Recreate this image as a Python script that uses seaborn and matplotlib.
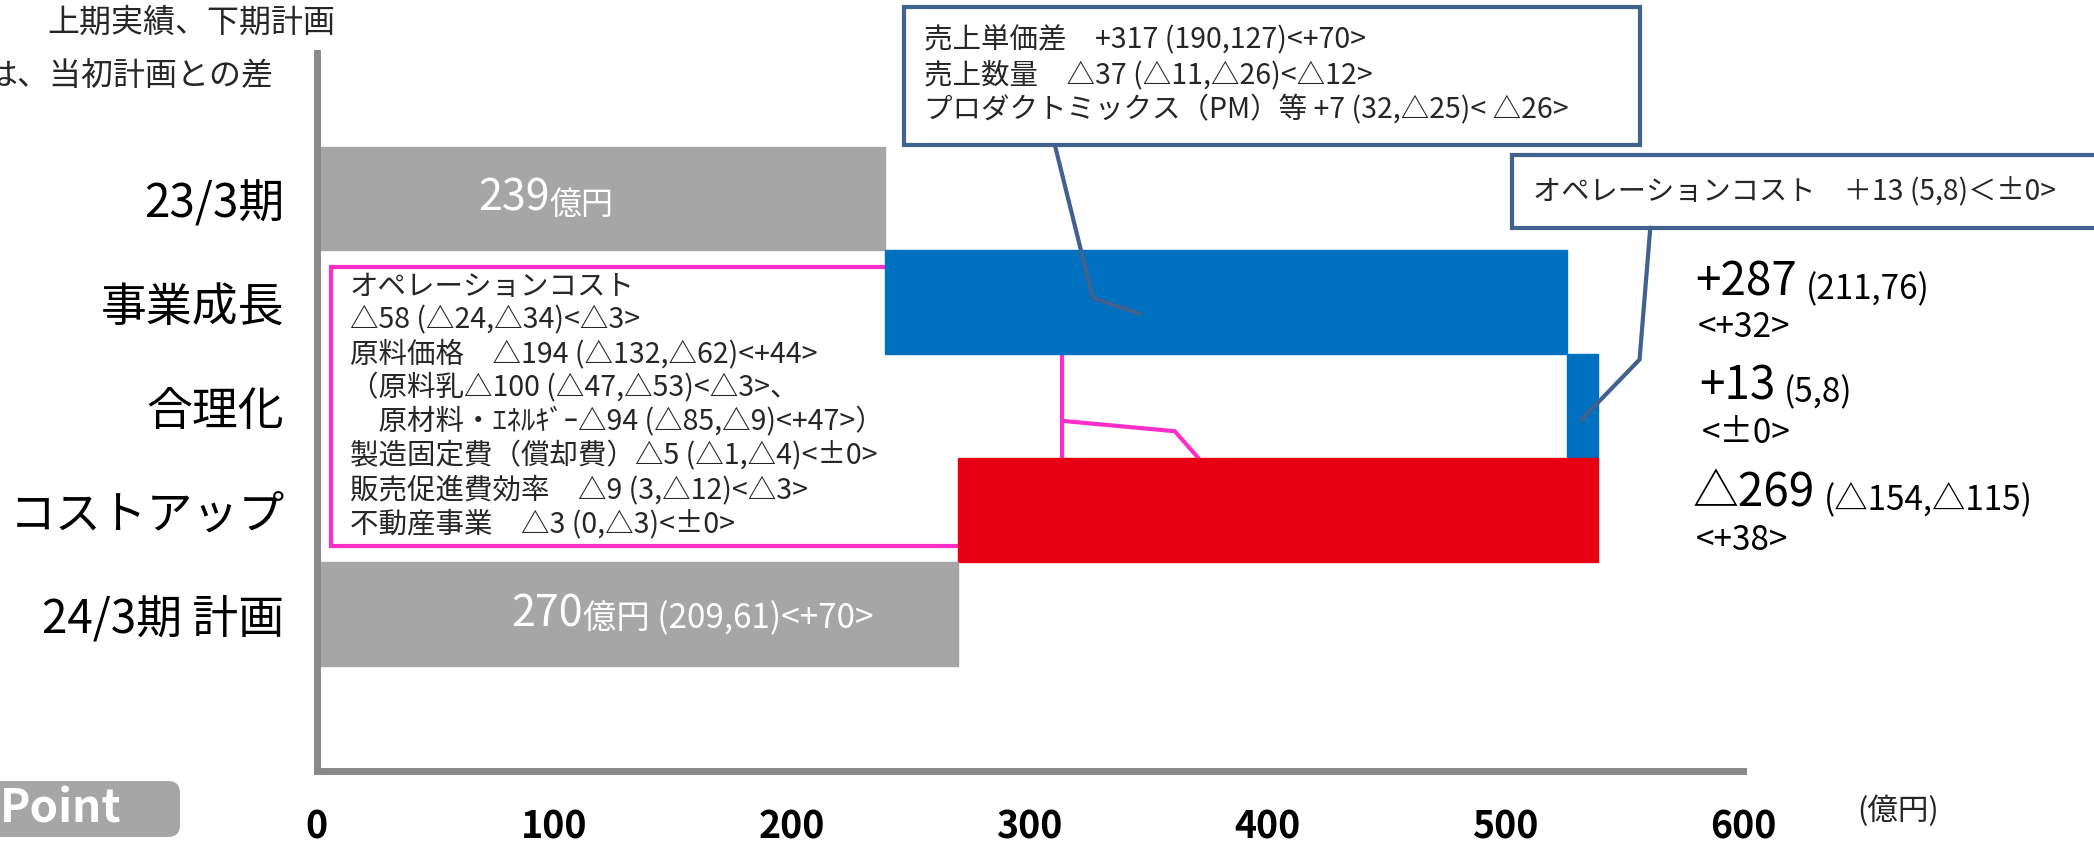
import numpy as np
import pandas as pd
import matplotlib
matplotlib.use('Agg')
import matplotlib.pyplot as plt
import seaborn as sns
from matplotlib.patches import Rectangle, FancyBboxPatch
from matplotlib.transforms import IdentityTransform

# 営業利益の増減（億円）
categories = ['23/3期', '事業成長', '合理化', 'コストアップ', '24/3期 計画']
bar_left = [0, 239, 526, 270, 0]
bar_width = [239, 287, 13, 269, 270]
bar_colors = ['#A6A6A6', '#0070C0', '#0070C0', '#E60012', '#A6A6A6']
x_ticks = [0, 100, 200, 300, 400, 500, 600]

start_label = ['239', '億円']
end_label = ['270', '億円 (209,61)<+70>']
growth_label = ['+287', '(211,76)', '<+32>']
rational_label = ['+13', '(5,8)', '<±0>']
costup_label = ['△269', '(△154,△115)', '<+38>']

sales_notes = ['売上単価差　+317 (190,127)<+70>',
               '売上数量　△37 (△11,△26)<△12>',
               'プロダクトミックス（PM）等 +7 (32,△25)< △26>']
rational_note = 'オペレーションコスト　＋13 (5,8)＜±0>'
cost_notes = ['オペレーションコスト',
              '△58 (△24,△34)<△3>',
              '原料価格　△194 (△132,△62)<+44>',
              '（原料乳△100 (△47,△53)<△3>、',
              '　原材料・ｴﾈﾙｷﾞｰ△94 (△85,△9)<+47>）',
              '製造固定費（償却費）△5 (△1,△4)<±0>',
              '販売促進費効率　△9 (3,△12)<△3>',
              '不動産事業　△3 (0,△3)<±0>']
header_lines = ['上期実績、下期計画', 'は、当初計画との差']

sns.set_theme(style='white')
plt.rcParams['font.family'] = ['Noto Sans CJK JP', 'DejaVu Sans']

W, H = 2094, 847
fig = plt.figure(figsize=(W / 100, H / 100), dpi=100)
ax = fig.add_axes([316.5 / W, (H - 771) / H, (1743 - 316.5) / W, (771 - 53) / H])

df = pd.DataFrame({'category': categories, 'width': bar_width, 'left': bar_left})
sns.barplot(data=df, x='width', y='category', orient='h', width=1.0, color='#A6A6A6',
            saturation=1, errorbar=None, left=df['left'].to_numpy(), ax=ax, zorder=2)
for patch, c in zip(ax.patches, bar_colors):
    patch.set_facecolor(c)
    patch.set_edgecolor(c)

ax.set_xlim(0, 600)
ax.set_ylim(5.51, -1.40)
ax.set_xticks(x_ticks)
ax.set_xlabel('')
ax.set_ylabel('')
ax.tick_params(axis='x', length=0, pad=26, labelsize=27, labelcolor='black')
ax.tick_params(axis='y', length=0, pad=23, labelsize=33, labelcolor='black')
for lab in ax.get_xticklabels():
    lab.set_fontweight('bold')
for s in ['top', 'right']:
    ax.spines[s].set_visible(False)
for s in ['left', 'bottom']:
    ax.spines[s].set_color('#898989')
    ax.spines[s].set_linewidth(5)


def pair(x, y, big, small, big_size, small_size, color, gap=0):
    t = ax.text(x, y, big, fontsize=big_size, color=color, va='center', ha='left', zorder=5)
    ax.annotate(small, xy=(1, 0), xycoords=t, xytext=(gap, 0), textcoords='offset points',
                fontsize=small_size, color=color, va='bottom', ha='left', zorder=5)
    return t


# 棒の中の数値
pair(68, 0, start_label[0], start_label[1], 31, 23, 'white')
pair(82, 4, end_label[0], end_label[1], 31, 24, 'white')

# 右側の増減
for (big, small, sub), xx, yy, yy2 in [(growth_label, 580, 0.81, 1.245),
                                       (rational_label, 581.5, 1.81, 2.26),
                                       (costup_label, 579, 2.84, 3.29)]:
    pair(xx, yy, big, small, 33, 24, 'black', gap=6)
    ax.text(xx + 1, yy2, sub, fontsize=24, va='center', ha='left', color='black')

# コストアップの吹き出し
pink = '#FF2EC8'
ax.add_patch(Rectangle((6, 0.66), 307.5, 2.68, facecolor='white', edgecolor=pink,
                       linewidth=3, zorder=1, clip_on=False))
ax.plot([313.5, 361, 371], [2.14, 2.24, 2.5], color=pink, lw=3, zorder=1.5,
        solid_joinstyle='miter')
for i, line in enumerate(cost_notes):
    ax.text(14, 0.85 + i * 0.327, line, fontsize=20.5, va='center', ha='left', zorder=5)

# 事業成長の吹き出し
navy = '#41618F'
ax.add_patch(Rectangle((247, -1.84), 309.6, 1.33, facecolor='white', edgecolor=navy,
                       linewidth=3, zorder=3, clip_on=False))
ax.plot([310.6, 326.5, 346.3], [-0.51, 0.957, 1.11], color=navy, lw=3, zorder=4,
        clip_on=False)
for i, line in enumerate(sales_notes):
    ax.text(255.4, -1.524 + i * 0.337, line, fontsize=20.5, va='center', ha='left',
            zorder=5, clip_on=False)

# 合理化の吹き出し
ax.add_patch(Rectangle((503, -0.42), 260, 0.70, facecolor='white', edgecolor=navy,
                       linewidth=3, zorder=3, clip_on=False))
ax.plot([561, 556.5, 532], [0.28, 1.55, 2.13], color=navy, lw=3, zorder=4, clip_on=False)
ax.text(511.5, -0.07, rational_note, fontsize=20.3, va='center', ha='left', zorder=5,
        clip_on=False)

# 左上の注記
fig.text(47 / W, 1 - 23 / H, header_lines[0], fontsize=23, va='center', ha='left')
fig.text(-15 / W, 1 - 76 / H, header_lines[1], fontsize=23, va='center', ha='left')

# Point
fig.patches.append(FancyBboxPatch((-30, H - 837), 210, 56,
                                  boxstyle='round,pad=0,rounding_size=12',
                                  facecolor='#A6A6A6', edgecolor='none',
                                  transform=IdentityTransform(), figure=fig))
fig.text(0 / W, 1 - 809 / H, 'Point', fontsize=33, fontweight='bold', color='white',
         va='center', ha='left')

fig.text(1898 / W, 1 - 811 / H, '(億円)', fontsize=22, va='center', ha='center')

fig.savefig('out.png', dpi=100)
